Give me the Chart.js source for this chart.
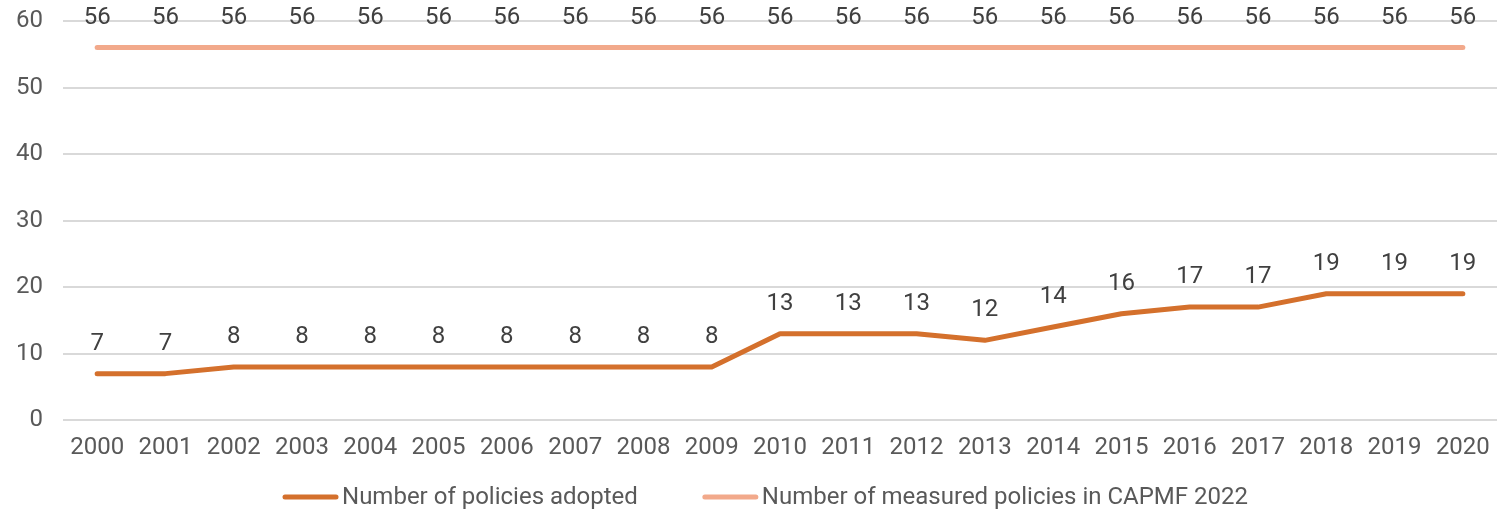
<!DOCTYPE html>
<html>
<head>
<meta charset="utf-8">
<script src="https://cdn.jsdelivr.net/npm/chart.js@4"></script>
<style>
  html, body { margin: 0; padding: 0; background: #fff; }
  #wrap { width: 1503px; height: 513px; }
</style>
</head>
<body>
<div id="wrap"><canvas id="policyChart"></canvas></div>
<script>
// datos
const years = ['2000','2001','2002','2003','2004','2005','2006','2007','2008','2009','2010',
  '2011','2012','2013','2014','2015','2016','2017','2018','2019','2020'];
const adopted = [7, 7, 8, 8, 8, 8, 8, 8, 8, 8, 13, 13, 13, 12, 14, 16, 17, 17, 19, 19, 19];
const measured = [56, 56, 56, 56, 56, 56, 56, 56, 56, 56, 56, 56, 56, 56, 56, 56, 56, 56, 56, 56, 56];
const yTicks = [0, 10, 20, 30, 40, 50, 60];

const FONT = 'Roboto, "Liberation Sans", Arial, sans-serif';

// etiquetas de valor encima de cada punto
const valueLabels = {
    id: 'valueLabels',
    afterDatasetsDraw(chart) {
        const ctx = chart.ctx;
        ctx.save();
        ctx.font = '24px ' + FONT;
        ctx.fillStyle = '#404040';
        ctx.textAlign = 'center';
        ctx.textBaseline = 'middle';
        chart.data.datasets.forEach((ds, i) => {
            chart.getDatasetMeta(i).data.forEach((pt, j) => {
                ctx.fillText(String(ds.data[j]), pt.x, pt.y - 30);
            });
        });
        ctx.restore();
    }
};

// leyenda propia abajo (la nativa mete demasiado padding vertical)
const bottomLegend = {
    id: 'bottomLegend',
    afterDraw(chart) {
        const ctx = chart.ctx;
        const lineW = 55, gapText = 4, gapItem = 65, y = 497;
        ctx.save();
        ctx.font = '24px ' + FONT;
        ctx.textBaseline = 'middle';
        ctx.textAlign = 'left';
        const items = chart.data.datasets.map(ds => ({
            text: ds.label, color: ds.borderColor, w: ctx.measureText(ds.label).width
        }));
        let total = 0;
        items.forEach((it, i) => { total += lineW + gapText + it.w + (i ? gapItem : 0); });
        let x = chart.width / 2 + 14 - total / 2;
        items.forEach(it => {
            ctx.strokeStyle = it.color;
            ctx.lineWidth = 5;
            ctx.lineCap = 'round';
            ctx.beginPath();
            ctx.moveTo(x + 2, y);
            ctx.lineTo(x + lineW - 2, y);
            ctx.stroke();
            x += lineW + gapText;
            ctx.fillStyle = '#595959';
            ctx.fillText(it.text, x, y + 1);
            x += it.w + gapItem;
        });
        ctx.restore();
    }
};

new Chart(document.getElementById('policyChart'), {
    type: 'line',
    data: {
        labels: years,
        datasets: [
            {
                label: 'Number of policies adopted',
                data: adopted,
                borderColor: '#D4702C',
                backgroundColor: '#D4702C',
                borderWidth: 5,
                pointRadius: 0,
                borderCapStyle: 'round',
                borderJoinStyle: 'round',
                tension: 0
            },
            {
                label: 'Number of measured policies in CAPMF 2022',
                data: measured,
                borderColor: '#F2A98B',
                backgroundColor: '#F2A98B',
                borderWidth: 5,
                pointRadius: 0,
                borderCapStyle: 'round',
                tension: 0
            }
        ]
    },
    options: {
        responsive: true,
        maintainAspectRatio: false,
        animation: false,
        layout: { padding: { top: 21, left: 0, right: 6, bottom: 46 } },
        plugins: {
            legend: { display: false },
            tooltip: { enabled: false }
        },
        scales: {
            x: {
                offset: true,
                grid: { display: false },
                border: { display: false },
                ticks: {
                    color: '#595959',
                    padding: 5,
                    maxRotation: 0,
                    font: { family: FONT, size: 24 }
                }
            },
            y: {
                min: 0,
                max: 60,
                afterBuildTicks: axis => { axis.ticks = yTicks.map(v => ({ value: v })); },
                afterFit: axis => { axis.width = 63; axis.paddingTop = 0; axis.paddingBottom = 0; },
                grid: { color: '#D9D9D9', lineWidth: 2, drawTicks: false },
                border: { display: false },
                ticks: {
                    color: '#595959',
                    padding: 20,
                    font: { family: FONT, size: 24 }
                }
            }
        }
    },
    plugins: [valueLabels, bottomLegend]
});
</script>
</body>
</html>
